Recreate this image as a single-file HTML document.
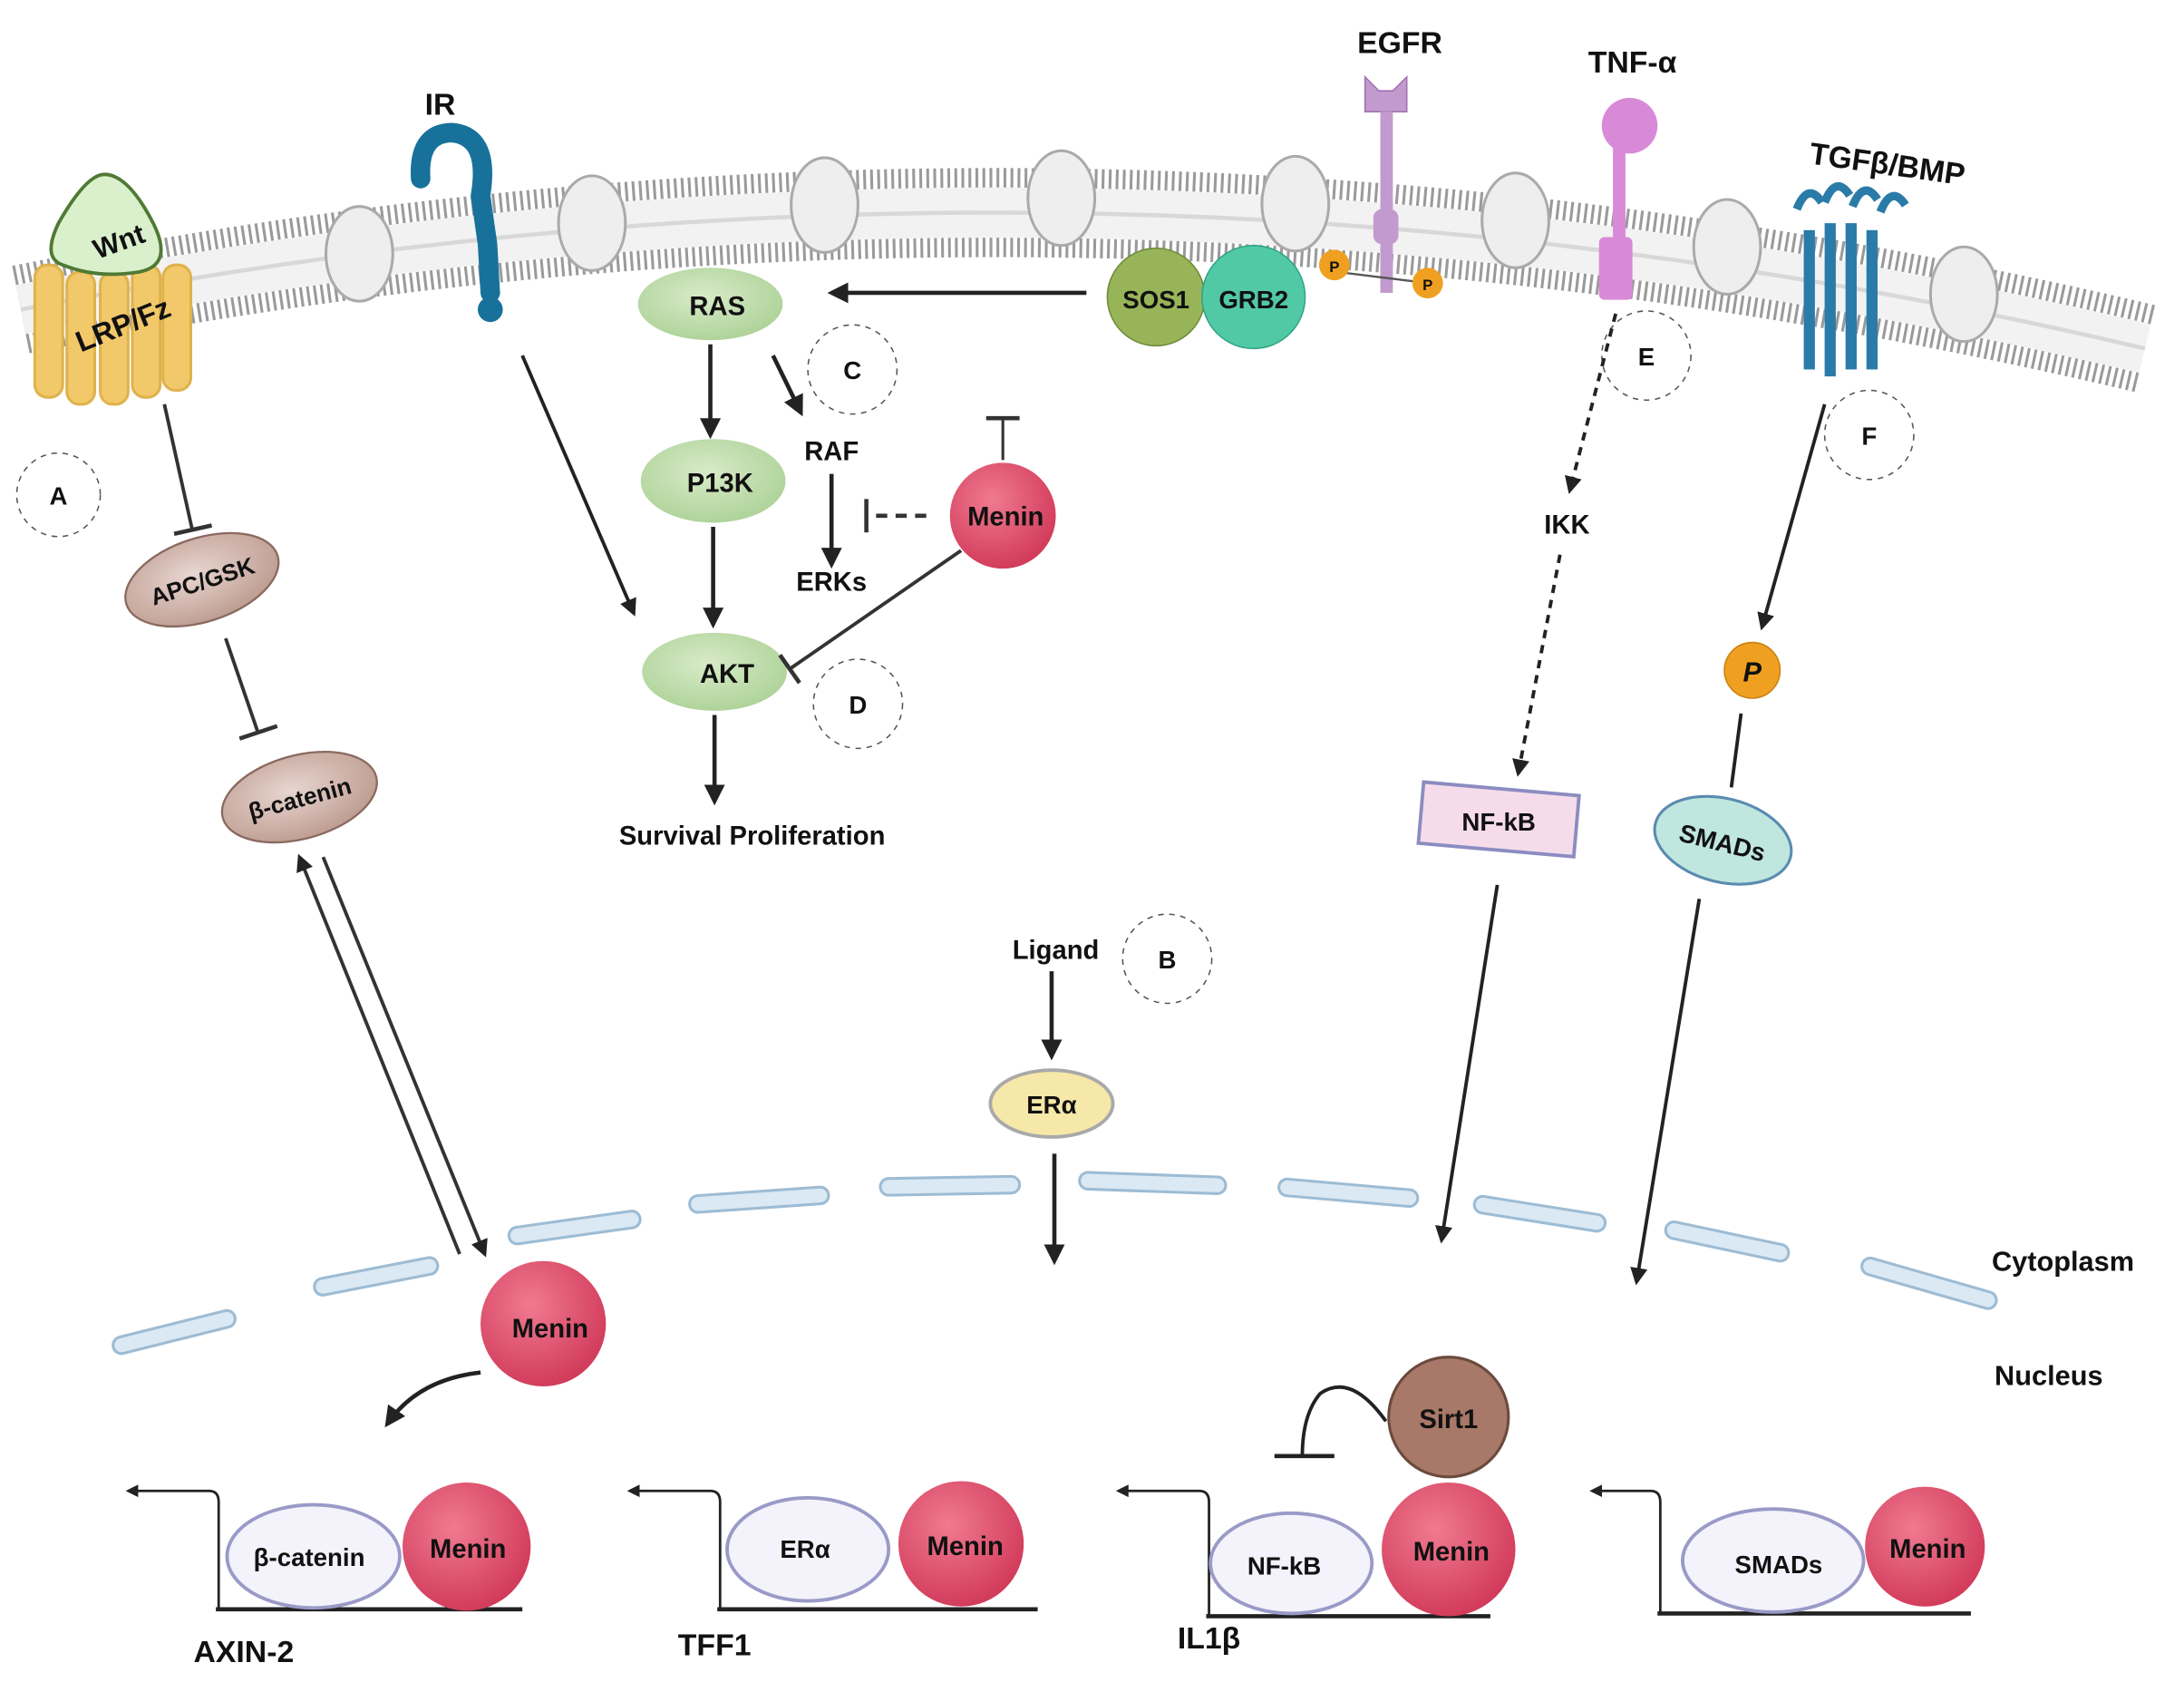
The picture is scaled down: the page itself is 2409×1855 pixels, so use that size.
<!DOCTYPE html>
<html><head><meta charset="utf-8"><style>
html,body{margin:0;padding:0;background:#fff}
svg{display:block}
text{font-family:"Liberation Sans",sans-serif;font-weight:bold;fill:#111}
</style></head><body>
<svg width="2409" height="1855" viewBox="0 0 1568 1207" xmlns="http://www.w3.org/2000/svg">
<defs>
<marker id="ar" viewBox="0 0 10 10" refX="8" refY="5" markerWidth="5" markerHeight="5" orient="auto"><path d="M0,0 L10,5 L0,10 z" fill="#222"/></marker>
<radialGradient id="men" cx="0.4" cy="0.35" r="0.7"><stop offset="0" stop-color="#f07a90"/><stop offset="1" stop-color="#d03858"/></radialGradient>
<radialGradient id="grn" cx="0.45" cy="0.4" r="0.7"><stop offset="0" stop-color="#d8ebc8"/><stop offset="1" stop-color="#a8cf92"/></radialGradient>
<radialGradient id="brn" cx="0.45" cy="0.4" r="0.7"><stop offset="0" stop-color="#e8d6d0"/><stop offset="1" stop-color="#b89488"/></radialGradient>
</defs>
<!-- plasma membrane -->
<path d="M15,222 Q780,70 1540,250" fill="none" stroke="#9a9a9a" stroke-width="64" stroke-dasharray="2 3"/>
<path d="M15,222 Q780,70 1540,250" fill="none" stroke="#f2f2f2" stroke-width="36"/>
<path d="M15,222 Q780,70 1540,250" fill="none" stroke="#d8d8d8" stroke-width="3"/>
<g fill="#eee" stroke="#aaa" stroke-width="2">
<ellipse cx="258" cy="182" rx="24" ry="34"/><ellipse cx="425" cy="160" rx="24" ry="34"/><ellipse cx="592" cy="147" rx="24" ry="34"/>
<ellipse cx="762" cy="142" rx="24" ry="34"/><ellipse cx="930" cy="146" rx="24" ry="34"/><ellipse cx="1088" cy="158" rx="24" ry="34"/>
<ellipse cx="1240" cy="177" rx="24" ry="34"/><ellipse cx="1410" cy="211" rx="24" ry="34"/>
</g>
<!-- nuclear membrane -->
<g fill="#dbe9f4" stroke="#9dbcd4" stroke-width="2">
<rect x="80" y="950" width="90" height="12" rx="6" transform="rotate(-14 125 956)"/>
<rect x="225" y="910" width="90" height="12" rx="6" transform="rotate(-11 270 916)"/>
<rect x="365" y="875" width="95" height="12" rx="6" transform="rotate(-8 412 881)"/>
<rect x="495" y="855" width="100" height="12" rx="6" transform="rotate(-4 545 861)"/>
<rect x="632" y="845" width="100" height="12" rx="6" transform="rotate(-1 682 851)"/>
<rect x="775" y="843" width="105" height="12" rx="6" transform="rotate(2 827 849)"/>
<rect x="918" y="850" width="100" height="12" rx="6" transform="rotate(5 968 856)"/>
<rect x="1058" y="865" width="95" height="12" rx="6" transform="rotate(9 1105 871)"/>
<rect x="1195" y="885" width="90" height="12" rx="6" transform="rotate(12 1240 891)"/>
<rect x="1335" y="915" width="100" height="12" rx="6" transform="rotate(16 1385 921)"/>
</g>
<text x="1430" y="912" font-size="20">Cytoplasm</text>
<text x="1432" y="994" font-size="20">Nucleus</text>

<!-- Wnt / LRP -->
<g fill="#f2c96a" stroke="#e0b24d" stroke-width="2">
<rect x="25" y="190" width="20" height="95" rx="9"/><rect x="48" y="195" width="20" height="95" rx="9"/><rect x="72" y="195" width="20" height="95" rx="9"/><rect x="95" y="190" width="20" height="95" rx="9"/><rect x="117" y="190" width="20" height="90" rx="9"/>
</g>
<path d="M45,190 Q30,185 42,160 Q62,125 75,125 Q92,125 110,160 Q125,190 100,195 Q70,200 45,190z" fill="#daf0cc" stroke="#4f7a34" stroke-width="2.5"/>
<text x="85" y="180" font-size="20" text-anchor="middle" transform="rotate(-20 85 172)">Wnt</text>
<text x="88" y="240" font-size="21" text-anchor="middle" transform="rotate(-22 88 232)">LRP/Fz</text>
<circle cx="42" cy="355" r="30" fill="none" stroke="#555" stroke-dasharray="4 4"/><text x="42" y="362" font-size="18" font-weight="normal" text-anchor="middle">A</text>
<line x1="118" y1="290" x2="138" y2="380" stroke="#333" stroke-width="2.5"/><line x1="125" y1="383" x2="152" y2="377" stroke="#333" stroke-width="3"/>
<ellipse cx="145" cy="416" rx="57" ry="30" fill="url(#brn)" stroke="#8a6a60" stroke-width="1.5" transform="rotate(-18 145 416)"/>
<text x="145" y="423" font-size="17" text-anchor="middle" transform="rotate(-18 145 416)">APC/GSK</text>
<line x1="162" y1="458" x2="185" y2="525" stroke="#333" stroke-width="2.5"/><line x1="172" y1="530" x2="199" y2="521" stroke="#333" stroke-width="3"/>
<ellipse cx="215" cy="572" rx="57" ry="30" fill="url(#brn)" stroke="#8a6a60" stroke-width="1.5" transform="rotate(-15 215 572)"/>
<text x="215" y="579" font-size="17" text-anchor="middle" transform="rotate(-15 215 572)">β-catenin</text>
<line x1="330" y1="900" x2="215" y2="615" stroke="#333" stroke-width="2.5" marker-end="url(#ar)"/>
<line x1="232" y1="615" x2="348" y2="900" stroke="#333" stroke-width="2.5" marker-end="url(#ar)"/>
<circle cx="390" cy="950" r="45" fill="url(#men)"/><text x="395" y="960" font-size="19" text-anchor="middle">Menin</text>
<path d="M345,985 Q300,990 278,1022" fill="none" stroke="#222" stroke-width="3" marker-end="url(#ar)"/>

<!-- IR -->
<path d="M302,128 Q300,95 325,95 Q352,98 345,140 L350,175 L352,210" fill="none" stroke="#17719b" stroke-width="14" stroke-linecap="round"/>
<circle cx="352" cy="222" r="9" fill="#17719b"/>
<text x="305" y="82" font-size="22">IR</text>
<line x1="375" y1="255" x2="455" y2="440" stroke="#222" stroke-width="2.5" marker-end="url(#ar)"/>

<!-- RAS pathway -->
<ellipse cx="510" cy="218" rx="52" ry="26" fill="url(#grn)"/><text x="515" y="226" font-size="19" text-anchor="middle">RAS</text>
<line x1="510" y1="247" x2="510" y2="312" stroke="#222" stroke-width="3" marker-end="url(#ar)"/>
<ellipse cx="512" cy="345" rx="52" ry="30" fill="url(#grn)"/><text x="517" y="353" font-size="19" text-anchor="middle">P13K</text>
<line x1="512" y1="378" x2="512" y2="448" stroke="#222" stroke-width="3" marker-end="url(#ar)"/>
<ellipse cx="513" cy="482" rx="52" ry="28" fill="url(#grn)"/><text x="522" y="490" font-size="19" text-anchor="middle">AKT</text>
<line x1="513" y1="513" x2="513" y2="575" stroke="#222" stroke-width="3" marker-end="url(#ar)"/>
<text x="540" y="606" font-size="19" text-anchor="middle">Survival Proliferation</text>
<line x1="555" y1="255" x2="575" y2="296" stroke="#222" stroke-width="3" marker-end="url(#ar)"/>
<text x="597" y="330" font-size="19" text-anchor="middle">RAF</text>
<line x1="597" y1="340" x2="597" y2="405" stroke="#222" stroke-width="3" marker-end="url(#ar)"/>
<text x="597" y="424" font-size="19" text-anchor="middle">ERKs</text>
<circle cx="612" cy="265" r="32" fill="none" stroke="#555" stroke-dasharray="4 4"/><text x="612" y="272" font-size="18" font-weight="normal" text-anchor="middle">C</text>
<circle cx="616" cy="505" r="32" fill="none" stroke="#555" stroke-dasharray="4 4"/><text x="616" y="512" font-size="18" font-weight="normal" text-anchor="middle">D</text>
<circle cx="720" cy="370" r="38" fill="url(#men)"/><text x="722" y="377" font-size="19" text-anchor="middle">Menin</text>
<line x1="665" y1="370" x2="622" y2="370" stroke="#333" stroke-width="3" stroke-dasharray="8 6"/><line x1="622" y1="358" x2="622" y2="382" stroke="#333" stroke-width="3"/>
<line x1="720" y1="330" x2="720" y2="300" stroke="#333" stroke-width="2"/><line x1="708" y1="300" x2="732" y2="300" stroke="#333" stroke-width="3"/>
<line x1="690" y1="395" x2="567" y2="480" stroke="#333" stroke-width="2.5"/><line x1="560" y1="470" x2="574" y2="490" stroke="#333" stroke-width="3"/>
<line x1="780" y1="210" x2="597" y2="210" stroke="#222" stroke-width="3" marker-end="url(#ar)"/>
<circle cx="830" cy="213" r="35" fill="#97b458" stroke="#6d8a3a"/><text x="830" y="221" font-size="18" text-anchor="middle">SOS1</text>
<circle cx="900" cy="213" r="37" fill="#52c9a5" stroke="#2ea383"/><text x="900" y="221" font-size="18" text-anchor="middle">GRB2</text>

<!-- EGFR -->
<path d="M980,55 L980,80 L1010,80 L1010,55 L1000,65 L990,65z" fill="#c39acd" stroke="#a070b0"/>
<rect x="991" y="80" width="9" height="130" fill="#c39acd"/>
<rect x="986" y="150" width="18" height="25" rx="6" fill="#c39acd"/>
<line x1="960" y1="195" x2="1025" y2="203" stroke="#555" stroke-width="1.5"/>
<circle cx="958" cy="190" r="11" fill="#f0a020"/><text x="958" y="195" font-size="11" text-anchor="middle" fill="#fff">P</text>
<circle cx="1025" cy="203" r="11" fill="#f0a020"/><text x="1025" y="208" font-size="11" text-anchor="middle" fill="#fff">P</text>
<text x="1005" y="38" font-size="22" text-anchor="middle">EGFR</text>

<!-- TNF -->
<circle cx="1170" cy="90" r="20" fill="#d88ad8"/>
<rect x="1158" y="105" width="9" height="80" fill="#d88ad8"/>
<rect x="1148" y="170" width="24" height="45" rx="4" fill="#d88ad8"/>
<text x="1172" y="52" font-size="22" text-anchor="middle">TNF-α</text>
<circle cx="1182" cy="255" r="32" fill="none" stroke="#555" stroke-dasharray="4 4"/><text x="1182" y="262" font-size="18" font-weight="normal" text-anchor="middle">E</text>
<line x1="1160" y1="225" x2="1127" y2="352" stroke="#222" stroke-width="2.5" stroke-dasharray="6 5" marker-end="url(#ar)"/>
<text x="1125" y="383" font-size="19" text-anchor="middle">IKK</text>
<line x1="1120" y1="398" x2="1090" y2="555" stroke="#222" stroke-width="2.5" stroke-dasharray="6 5" marker-end="url(#ar)"/>
<rect x="1020" y="566" width="112" height="44" fill="#f6dceb" stroke="#8b8cc0" stroke-width="2.5" transform="rotate(5 1076 588)"/>
<text x="1076" y="596" font-size="18" text-anchor="middle">NF-kB</text>
<line x1="1075" y1="635" x2="1035" y2="890" stroke="#222" stroke-width="2.5" marker-end="url(#ar)"/>

<!-- TGF -->
<g fill="#2a7ba8"><rect x="1295" y="165" width="8" height="100"/><rect x="1310" y="160" width="8" height="110"/><rect x="1325" y="160" width="8" height="105"/><rect x="1340" y="165" width="8" height="100"/></g>
<path d="M1290,150 q8,-20 18,-5 M1310,145 q8,-20 18,-5 M1330,148 q8,-20 18,-5 M1350,152 q8,-20 18,-5" fill="none" stroke="#2a7ba8" stroke-width="6"/>
<text x="1355" y="125" font-size="22" text-anchor="middle" transform="rotate(8 1355 118)">TGFβ/BMP</text>
<circle cx="1342" cy="312" r="32" fill="none" stroke="#555" stroke-dasharray="4 4"/><text x="1342" y="319" font-size="18" font-weight="normal" text-anchor="middle">F</text>
<line x1="1310" y1="290" x2="1265" y2="450" stroke="#222" stroke-width="2.5" marker-end="url(#ar)"/>
<circle cx="1258" cy="481" r="20" fill="#f0a020" stroke="#c98010"/><text x="1258" y="489" font-size="20" font-weight="normal" font-style="italic" text-anchor="middle" fill="#fff">P</text>
<line x1="1250" y1="512" x2="1243" y2="565" stroke="#222" stroke-width="2.5"/>
<ellipse cx="1237" cy="603" rx="50" ry="30" fill="#bfe6df" stroke="#5a8bb0" stroke-width="2" transform="rotate(14 1237 603)"/>
<text x="1237" y="611" font-size="18" text-anchor="middle" transform="rotate(14 1237 603)">SMADs</text>
<line x1="1220" y1="645" x2="1175" y2="920" stroke="#222" stroke-width="2.5" marker-end="url(#ar)"/>

<!-- ER -->
<text x="758" y="688" font-size="19" text-anchor="middle">Ligand</text>
<circle cx="838" cy="688" r="32" fill="none" stroke="#555" stroke-dasharray="4 4"/><text x="838" y="695" font-size="18" font-weight="normal" text-anchor="middle">B</text>
<line x1="755" y1="697" x2="755" y2="758" stroke="#222" stroke-width="3" marker-end="url(#ar)"/>
<ellipse cx="755" cy="792" rx="44" ry="24" fill="#f6e8a8" stroke="#a9a9a9" stroke-width="2.5"/><text x="755" y="799" font-size="18" text-anchor="middle">ERα</text>
<line x1="757" y1="828" x2="757" y2="905" stroke="#222" stroke-width="3" marker-end="url(#ar)"/>

<!-- Nucleus genes -->
<g stroke="#222" stroke-width="3" fill="none">
<line x1="155" y1="1155" x2="375" y2="1155"/><path d="M157,1155 L157,1078 Q157,1070 150,1070 L92,1070" stroke-width="1.8" marker-end="url(#ar)"/>
<line x1="515" y1="1155" x2="745" y2="1155"/><path d="M517,1155 L517,1078 Q517,1070 510,1070 L452,1070" stroke-width="1.8" marker-end="url(#ar)"/>
<line x1="866" y1="1160" x2="1070" y2="1160"/><path d="M868,1160 L868,1078 Q868,1070 861,1070 L803,1070" stroke-width="1.8" marker-end="url(#ar)"/>
<line x1="1190" y1="1158" x2="1415" y2="1158"/><path d="M1192,1158 L1192,1078 Q1192,1070 1185,1070 L1143,1070" stroke-width="1.8" marker-end="url(#ar)"/>
</g>
<g fill="#f4f2fa" stroke="#9a9ac8" stroke-width="2.5">
<ellipse cx="225" cy="1117" rx="62" ry="37"/><ellipse cx="580" cy="1112" rx="58" ry="37"/><ellipse cx="927" cy="1122" rx="58" ry="36"/><ellipse cx="1273" cy="1120" rx="65" ry="37"/>
</g>
<text x="222" y="1124" font-size="18" text-anchor="middle">β-catenin</text>
<text x="578" y="1118" font-size="18" font-weight="normal" text-anchor="middle">ERα</text>
<text x="922" y="1130" font-size="18" text-anchor="middle">NF-kB</text>
<text x="1277" y="1129" font-size="18" text-anchor="middle">SMADs</text>
<circle cx="335" cy="1110" r="46" fill="url(#men)"/><text x="336" y="1118" font-size="19" text-anchor="middle">Menin</text>
<circle cx="690" cy="1108" r="45" fill="url(#men)"/><text x="693" y="1116" font-size="19" text-anchor="middle">Menin</text>
<circle cx="1040" cy="1112" r="48" fill="url(#men)"/><text x="1042" y="1120" font-size="19" text-anchor="middle">Menin</text>
<circle cx="1382" cy="1110" r="43" fill="url(#men)"/><text x="1384" y="1118" font-size="19" text-anchor="middle">Menin</text>
<circle cx="1040" cy="1017" r="43" fill="#a87868" stroke="#6b4a3e" stroke-width="2"/><text x="1040" y="1025" font-size="19" text-anchor="middle">Sirt1</text>
<path d="M995,1020 Q970,985 948,1000 Q935,1015 935,1045" fill="none" stroke="#222" stroke-width="2.5"/>
<line x1="915" y1="1045" x2="958" y2="1045" stroke="#222" stroke-width="3"/>
<text x="175" y="1193" font-size="22" text-anchor="middle">AXIN-2</text>
<text x="513" y="1188" font-size="22" text-anchor="middle">TFF1</text>
<text x="868" y="1183" font-size="22" text-anchor="middle">IL1β</text>
</svg>
</body></html>
